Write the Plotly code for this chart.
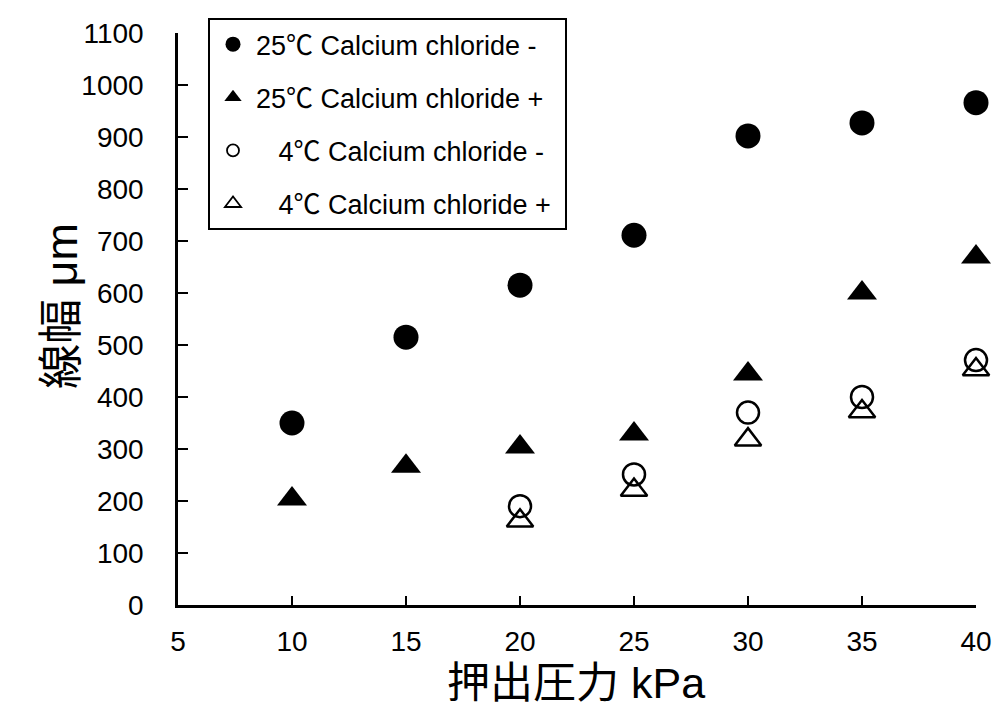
import plotly.graph_objects as go

x_vals = [10, 15, 20, 25, 30, 35, 40]
x_vals_4c = [20, 25, 30, 35, 40]
y_25_minus = [350, 515, 615, 711, 902, 927, 966]
y_25_plus = [204, 267, 304, 329, 444, 600, 669]
y_4_minus = [190, 251, 370, 400, 471]
y_4_plus = [162, 221, 318, 372, 453]

names = ["25℃ Calcium chloride -\u00a0\u00a0", "25℃ Calcium chloride +\u00a0",
         "\u00a0\u00a0 4℃ Calcium chloride -\u00a0\u00a0", "\u00a0\u00a0 4℃ Calcium chloride +\u00a0"]
x_title = "押出圧力 kPa"
y_title = "線幅 μm"
x_tick_vals = [5, 10, 15, 20, 25, 30, 35, 40]
y_tick_vals = [0, 100, 200, 300, 400, 500, 600, 700, 800, 900, 1000, 1100]

series = [
    (x_vals, y_25_minus, "circle", 25, "black", 0),
    (x_vals, y_25_plus, "triangle-up", 26, "black", 0),
    (x_vals_4c, y_4_minus, "circle-open", 22, "black", 2.5),
    (x_vals_4c, y_4_plus, "triangle-up-open", 23, "black", 2.5),
]
legend_sizes = [15, 15, 12, 14]

fig = go.Figure()
for i, (xs, ys, sym, sz, col, lw) in enumerate(series):
    fig.add_trace(go.Scatter(
        x=xs, y=ys, mode="markers", showlegend=False,
        marker=dict(symbol=sym, size=sz, color=col, line=dict(width=lw, color="black")),
        cliponaxis=False,
    ))
for i, (xs, ys, sym, sz, col, lw) in enumerate(series):
    fig.add_trace(go.Scatter(
        x=[None], y=[None], mode="markers", name=names[i], legendgroup=f"g{i}",
        marker=dict(symbol=sym, size=legend_sizes[i], color=col, line=dict(width=1.8 if lw else 0, color="black")),
    ))

font_main = "Liberation Sans, Arial, Noto Sans CJK JP, sans-serif"
fig.update_layout(
    width=995, height=710,
    margin=dict(l=178, r=19, t=33, b=105, autoexpand=False),
    paper_bgcolor="white", plot_bgcolor="white",
    font=dict(family=font_main, color="black"),
    showlegend=True,
    legend=dict(
        x=0.0376, y=1.026, xanchor="left", yanchor="top",
        bordercolor="black", borderwidth=2, bgcolor="white",
        font=dict(size=27, family=font_main, color="black"),
        tracegroupgap=15, itemwidth=36,
    ),
    xaxis=dict(
        range=[5, 40], tickvals=x_tick_vals, ticks="inside", ticklen=9, tickwidth=2,
        tickcolor="black", showline=True, linecolor="black", linewidth=2.5,
        showgrid=False, zeroline=False, tickfont=dict(size=28),
        ticklabelstandoff=10, automargin=False,
    ),
    yaxis=dict(
        range=[0, 1100], tickvals=y_tick_vals, ticks="inside", ticklen=10, tickwidth=2,
        tickcolor="black", showline=True, linecolor="black", linewidth=2.5,
        showgrid=False, zeroline=False, tickfont=dict(size=28),
        ticklabelstandoff=26, automargin=False,
    ),
    annotations=[
        dict(text=x_title, xref="paper", yref="paper", x=0.4987, y=-0.1818,
             xanchor="center", yanchor="bottom", showarrow=False,
             font=dict(size=43, family=font_main, color="black")),
        dict(text=y_title, xref="paper", yref="paper", x=-0.1466, y=0.5227,
             xanchor="center", yanchor="middle", showarrow=False, textangle=-90,
             font=dict(size=45, family=font_main, color="black")),
    ],
)
fig.write_html("out.html")
